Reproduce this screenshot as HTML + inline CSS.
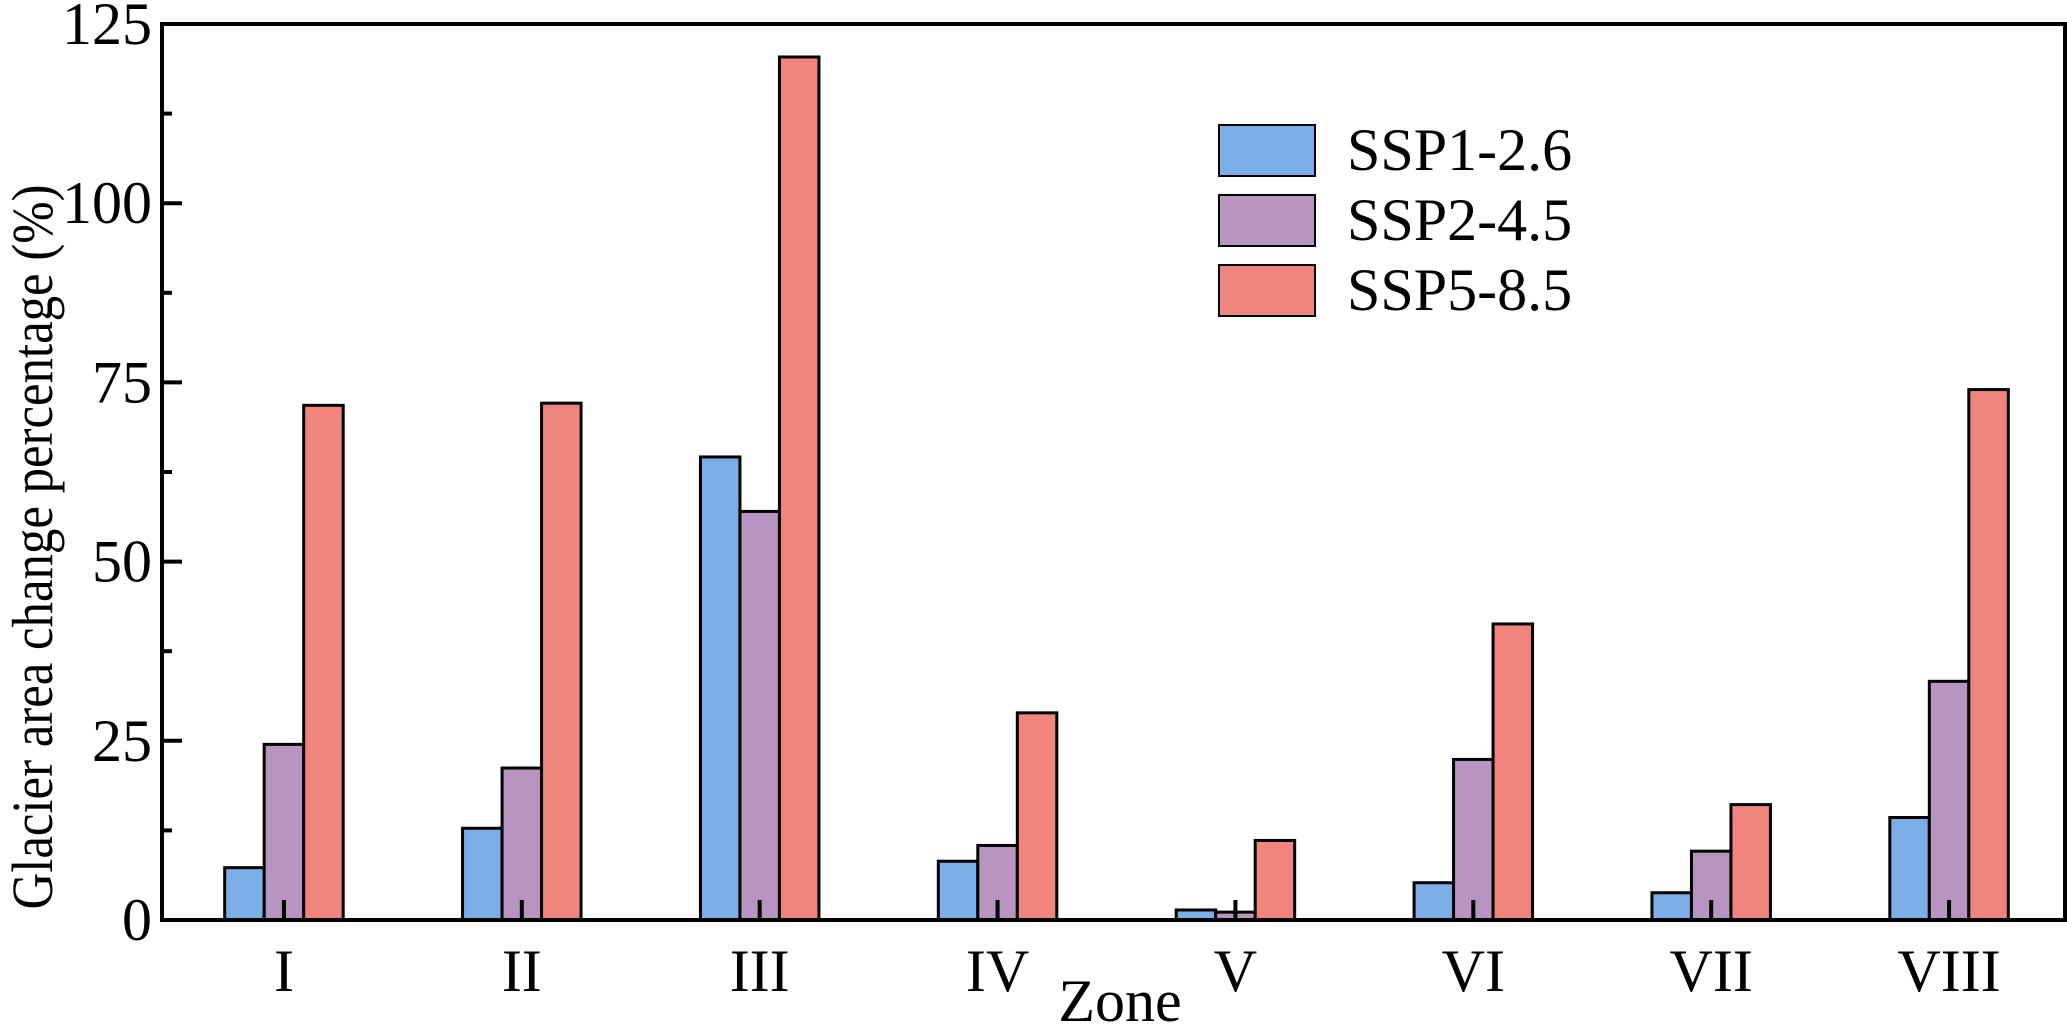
<!DOCTYPE html>
<html><head><meta charset="utf-8"><style>
html,body{margin:0;padding:0;background:#fff}
svg{display:block}
text{font-family:"Liberation Serif","Times New Roman",serif}
</style></head><body>
<svg id="chart" width="2067" height="1024" xmlns="http://www.w3.org/2000/svg" font-family="Liberation Serif, serif">
<g id="bars"></g>
<g id="axes"></g>
<text font-family="Liberation Serif, serif" transform="translate(52,547) rotate(-90)" text-anchor="middle" font-size="58" textLength="725" lengthAdjust="spacingAndGlyphs">Glacier area change percentage (%)</text>
<text font-family="Liberation Serif, serif" x="1120" y="1021" text-anchor="middle" font-size="60">Zone</text>
<g id="legend"></g>
</svg>
<script>
const categories = ["I","II","III","IV","V","VI","VII","VIII"];
const seriesNames = ["SSP1-2.6","SSP2-4.5","SSP5-8.5"];
const ssp126 = [7.3,12.8,64.6,8.2,1.4,5.2,3.8,14.3];
const ssp245 = [24.5,21.2,57.0,10.4,1.1,22.4,9.6,33.3];
const ssp585 = [71.8,72.1,120.4,28.9,11.1,41.3,16.1,74.0];
const yTicks = [0,25,50,75,100,125];
const colors = ["#7baee6","#b894c0","#ef857c"];
const series = [ssp126,ssp245,ssp585];

const L=162,R=2065,T=24,B=920,yMax=125;
const NS="http://www.w3.org/2000/svg";
const band=(R-L)/categories.length, bw=39.5;
const xc=i=>L+3+band*(i+0.5);
const y=v=>B-(v/yMax)*(B-T);
function mk(tag,attrs,parent){const e=document.createElementNS(NS,tag);for(const k in attrs)e.setAttribute(k,attrs[k]);parent.appendChild(e);return e;}
const FF="Liberation Serif, serif";
const gb=document.getElementById('bars'),ga=document.getElementById('axes'),gl=document.getElementById('legend');
series.forEach((s,si)=>{s.forEach((v,i)=>{
  const x=xc(i)+(si-1)*bw-bw/2;
  const r=mk('rect',{x:x,y:y(v),width:bw,height:B-y(v),fill:colors[si],stroke:'#000','stroke-width':3},gb);
  
  
});});
const frame=mk('rect',{x:L,y:T,width:R-L,height:B-T,fill:'none',stroke:'#000','stroke-width':4},ga);


yTicks.forEach((t,i)=>{
  mk('line',{x1:L,x2:L+20,y1:y(t),y2:y(t),stroke:'#000','stroke-width':4},ga);
  if(i<yTicks.length-1){const m=t+12.5;mk('line',{x1:L,x2:L+10,y1:y(m),y2:y(m),stroke:'#000','stroke-width':4},ga);}
  const tx=mk('text',{x:152,y:y(t)+20,'text-anchor':'end','font-size':60,'font-family':FF},ga);
  tx.textContent=t;
  
  
});
categories.forEach((c,i)=>{
  mk('line',{x1:xc(i),x2:xc(i),y1:B,y2:B-20,stroke:'#000','stroke-width':4},ga);
  const tx=mk('text',{x:xc(i),y:991,'text-anchor':'middle','font-size':60,'font-family':FF},ga);
  tx.textContent=c;
  
  
});
seriesNames.forEach((n,i)=>{
  const yy=125+i*70;
  const r=mk('rect',{x:1219,y:yy,width:96,height:51,fill:colors[i],stroke:'#000','stroke-width':2},gl);
  
  
  const tx=mk('text',{x:1347,y:yy+45,'font-size':60,'font-family':FF},gl);
  tx.textContent=n;
  
  
});
</script>
</body></html>
